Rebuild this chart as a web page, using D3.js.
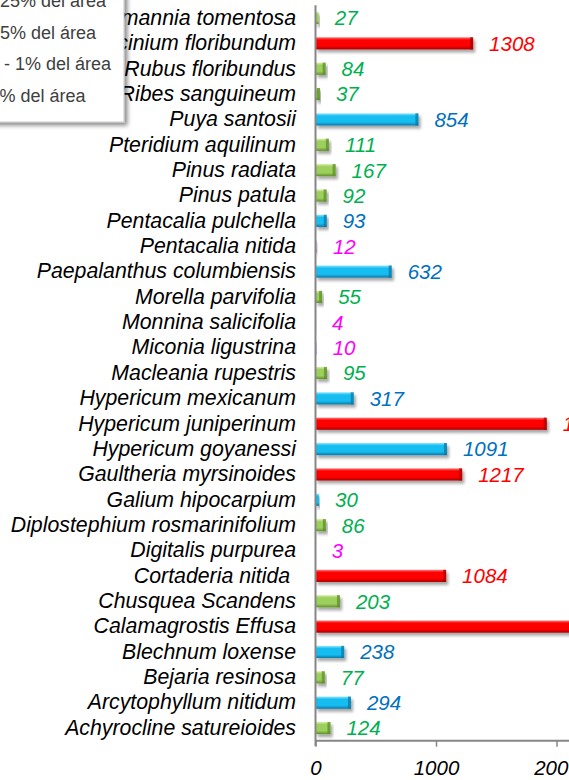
<!DOCTYPE html>
<html><head><meta charset="utf-8">
<script src="https://cdn.jsdelivr.net/npm/d3@7"></script>
<style>
html,body{margin:0;padding:0;background:#fff;overflow:hidden;width:569px;height:780px;}
svg{display:block;}
.cat text{white-space:pre;}
</style></head>
<body>
<script>
const categories = [
  "Weinmannia tomentosa","Vaccinium floribundum","Rubus floribundus","Ribes sanguineum",
  "Puya santosii","Pteridium aquilinum","Pinus radiata","Pinus patula","Pentacalia pulchella",
  "Pentacalia nitida","Paepalanthus columbiensis","Morella parvifolia","Monnina salicifolia",
  "Miconia ligustrina","Macleania rupestris","Hypericum mexicanum","Hypericum juniperinum",
  "Hypericum goyanessi","Gaultheria myrsinoides","Galium hipocarpium",
  "Diplostephium rosmarinifolium","Digitalis purpurea","Cortaderia nitida ","Chusquea Scandens",
  "Calamagrostis Effusa","Blechnum loxense","Bejaria resinosa","Arcytophyllum nitidum",
  "Achyrocline satureioides"
];
const values = [27,1308,84,37,854,111,167,92,93,12,632,55,4,10,95,317,1919,1091,1217,30,86,3,1084,203,2260,238,77,294,124];
// area class of each species: 0 = 5 - 25%, 1 = 1 - 5%, 2 = 0,1 - 1%, 3 = smallest
const barClass   = [2,0,2,2,1,2,2,2,1,3,1,2,3,3,2,1,0,1,0,1,2,3,0,2,0,1,2,1,2];
const labelClass = [2,0,2,2,1,2,2,2,1,3,1,2,3,3,2,1,0,1,0,2,2,3,0,2,0,1,2,1,2];
const legendLabels = ["5 - 25% del área","1 - 5% del área","0,1 - 1% del área","< 1% del área"];
const xTicks = [0,1000,2000];

const barColors = [
  {light:"#ff7a7a", main:"#ff0000", dark:"#a80000"},
  {light:"#8fe6ff", main:"#17bdf0", dark:"#0a78a8"},
  {light:"#d8f0a8", main:"#9ccf5c", dark:"#5f8f2a"},
  {light:"#f0dcff", main:"#d0a8f0", dark:"#9a70c0"}
];
const labelColors = ["#ff0000","#0070c0","#00b050","#ff00ff"];

const W = 700, H = 780;
const svg = d3.select("body").append("svg").attr("width", W).attr("height", H);
const defs = svg.append("defs");

barColors.forEach((c,i)=>{
  const g = defs.append("linearGradient").attr("id","grad"+i).attr("x1",0).attr("y1",0).attr("x2",0).attr("y2",1);
  g.append("stop").attr("offset","0%").attr("stop-color",c.light);
  g.append("stop").attr("offset","22%").attr("stop-color",c.main);
  g.append("stop").attr("offset","72%").attr("stop-color",c.main);
  g.append("stop").attr("offset","100%").attr("stop-color",c.dark);
});
const f = defs.append("filter").attr("id","shadow").attr("x","-20%").attr("y","-50%").attr("width","140%").attr("height","220%");
f.append("feDropShadow").attr("dx",2).attr("dy",3).attr("stdDeviation",1.6).attr("flood-color","#000").attr("flood-opacity",0.35);
const lf = defs.append("filter").attr("id","lshadow").attr("x","-20%").attr("y","-20%").attr("width","140%").attr("height","140%");
lf.append("feDropShadow").attr("dx",3).attr("dy",3).attr("stdDeviation",2).attr("flood-color","#000").attr("flood-opacity",0.45);

const x = d3.scaleLinear().domain([0,2000]).range([315.5,556.5]);
const y = d3.scaleBand().domain(categories).range([5.3,740.7]).paddingInner(0.52).paddingOuter(0.26);

const font = "'Liberation Sans', Arial, sans-serif";

// bars
const bars = svg.append("g");
categories.forEach((c,i)=>{
  const x0 = x(0), x1 = x(values[i]);
  const w = Math.max(0, x1 - x0);
  const g = bars.append("g").attr("filter","url(#shadow)");
  g.append("rect").attr("x",x0).attr("y",y(c)).attr("width",w).attr("height",y.bandwidth())
    .attr("fill","url(#grad"+barClass[i]+")");
  if (w > 4) {
    g.append("rect").attr("x",x1-3).attr("y",y(c)).attr("width",3).attr("height",y.bandwidth())
      .attr("fill",barColors[barClass[i]].dark).attr("opacity",0.75);
  }
});

// axes
const axisColor = "#868686";
svg.append("line").attr("x1",x(0)).attr("x2",x(0)).attr("y1",5.3).attr("y2",746)
  .attr("stroke",axisColor).attr("stroke-width",2);
const xAxis = d3.axisBottom(x).tickValues(xTicks).tickSize(6).tickFormat(d3.format("d"));
const xg = svg.append("g").attr("transform","translate(0,740.7)").call(xAxis);
xg.select(".domain").attr("stroke",axisColor).attr("stroke-width",2).attr("d","M"+x(0)+",0H"+(W));
xg.selectAll(".tick line").attr("stroke",axisColor).attr("stroke-width",1.5);
xg.selectAll(".tick text").attr("y",0).attr("dy",0).attr("transform","translate(0,34)")
  .attr("font-family",font).attr("font-style","italic").attr("font-size",20.5).attr("fill","#000");

// category labels
const yAxis = d3.axisLeft(y).tickSize(0).tickPadding(19.5);
const yg = svg.append("g").attr("class","cat").attr("transform","translate("+x(0)+",0)").call(yAxis);
yg.select(".domain").remove();
yg.selectAll(".tick text").attr("xml:space","preserve").attr("font-family",font).attr("font-style","italic").attr("font-size",21.3).attr("fill","#000");

// value labels
svg.append("g").selectAll("text").data(categories).join("text")
  .attr("x",(d,i)=>x(values[i])+16)
  .attr("y",d=>y(d)+y.bandwidth()/2)
  .attr("dy","0.36em")
  .attr("font-family",font).attr("font-style","italic").attr("font-size",20.5)
  .attr("fill",(d,i)=>labelColors[labelClass[i]])
  .text((d,i)=>values[i]);

// legend
const lg = svg.append("g");
lg.append("rect").attr("x",-120).attr("y",-40).attr("width",244).attr("height",162)
  .attr("fill","#fff").attr("stroke","#c8c8c8").attr("stroke-width",1).attr("filter","url(#lshadow)");
legendLabels.forEach((t,i)=>{
  const cy = 0.5 + i*31.7;
  lg.append("rect").attr("x",-52).attr("y",cy-5).attr("width",20).attr("height",10).attr("fill",barColors[i].main);
  lg.append("text").attr("x",-26).attr("y",cy).attr("dy","0.36em")
    .attr("font-family",font).attr("font-size",18).attr("fill","#404040").text(t);
});
</script>
</body></html>
